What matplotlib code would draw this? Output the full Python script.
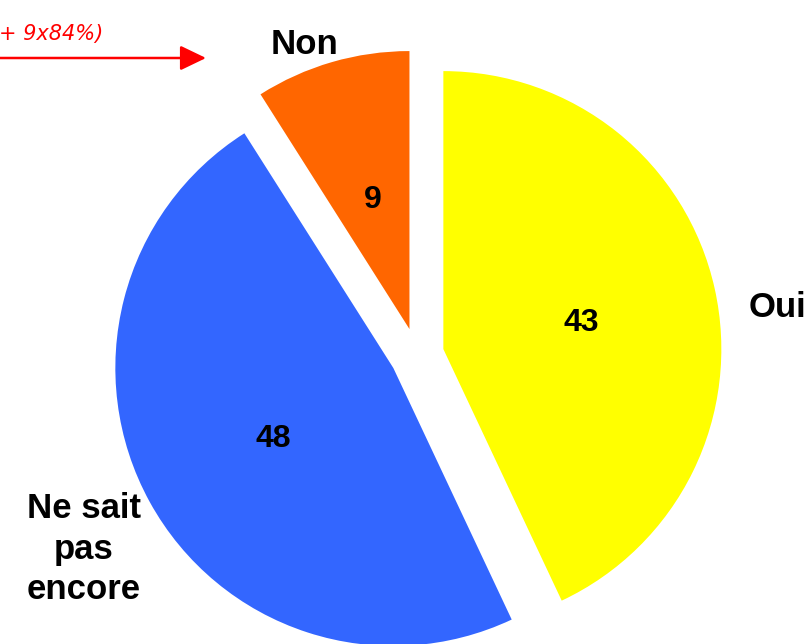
"""Exploded pie: Oui / Ne sait pas encore / Non."""

import matplotlib.pyplot as plt

categories = ["Oui", "Ne sait\npas\nencore", "Non"]
values = [43, 48, 9]
colors = ["#FFFF00", "#3366FF", "#FF6600"]
note_text = "+ 9x84%)"

# label anchors (pixel space, y up)
label_pos = [(777, 337), (84, 95), (304, 600)]


def main() -> None:
    fig = plt.figure(figsize=(8.05, 6.44), dpi=100)
    ax = fig.add_axes([0, 0, 1, 1])

    # explode is in data units here (axes are in pixels)
    _, _, autotexts = ax.pie(
        values,
        colors=colors,
        center=(417, 289),
        radius=278,
        startangle=90,
        counterclock=False,
        explode=[27] * len(values),
        autopct=lambda p: f"{p:.0f}",
        pctdistance=0.5,
        textprops=dict(family="Liberation Sans", fontweight="bold", fontsize=23, color="black"),
        wedgeprops=dict(linewidth=0),
    )
    # nudge the value labels slightly down/right to sit like the original
    for t in autotexts:
        x, y = t.get_position()
        t.set_position((x + 2, y - 4))

    for name, (x, y) in zip(categories, label_pos):
        ax.text(x, y, name, ha="center", va="center", multialignment="center",
                family="Liberation Sans", fontweight="bold", fontsize=25, linespacing=1.3)

    ax.text(103, 604, note_text, ha="right", va="baseline", color="red",
            family="DejaVu Sans", style="italic", fontsize=15)
    ax.annotate("", xy=(206, 586), xytext=(-5, 586),
                arrowprops=dict(arrowstyle="-|>,head_length=0.79,head_width=0.38",
                                mutation_scale=20, color="red", lw=1.8,
                                shrinkA=0, shrinkB=0))

    ax.set_xlim(0, 805)
    ax.set_ylim(0, 644)
    ax.axis("off")
    fig.savefig("out.png", dpi=100)
    plt.close(fig)


if __name__ == "__main__":
    main()
